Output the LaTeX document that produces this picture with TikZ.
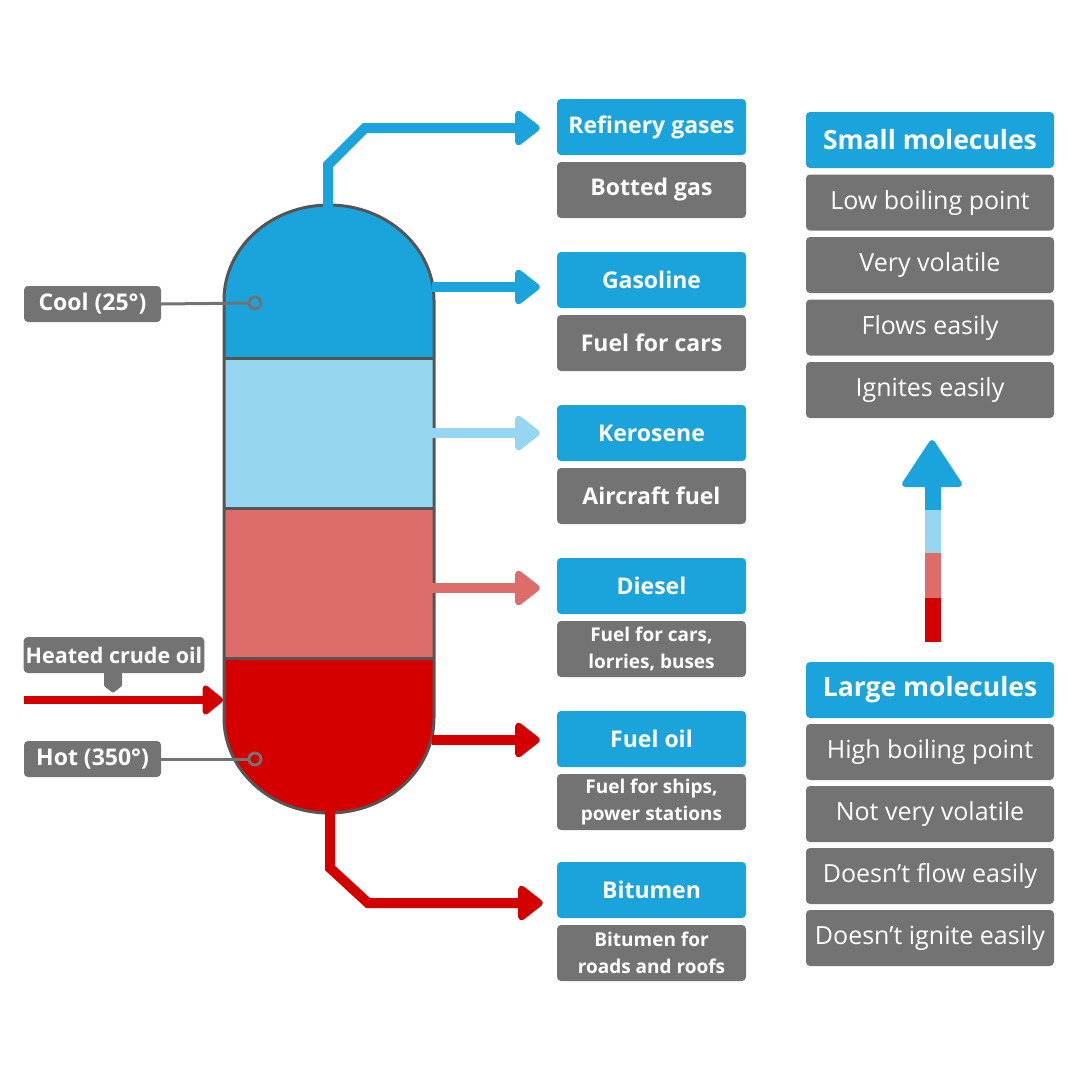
\documentclass[tikz,border=0pt]{standalone}
\usepackage{fontspec}
\setmainfont{Open Sans}
\usetikzlibrary{arrows.meta}
\definecolor{cblue}{HTML}{1BA3DB}
\definecolor{clight}{HTML}{97D6F0}
\definecolor{cpink}{HTML}{DD6C6A}
\definecolor{cred}{HTML}{D40000}
\definecolor{cgray}{HTML}{737373}
\definecolor{cedge}{HTML}{555555}
\tikzset{
  bluebox/.style={fill=cblue,rounded corners=4pt,minimum width=189pt,minimum height=56pt,text=white,font=\bfseries\fontsize{23}{25}\selectfont,inner sep=0pt},
  graybox/.style={fill=cgray,rounded corners=4pt,minimum width=189pt,minimum height=56pt,text=white,font=\bfseries\fontsize{23}{25}\selectfont,inner sep=0pt,align=center},
  graysmall/.style={graybox,font=\bfseries\fontsize{19}{27}\selectfont},
  headbox/.style={fill=cblue,rounded corners=4pt,minimum width=248pt,minimum height=56pt,text=white,font=\bfseries\fontsize{26.5}{28}\selectfont,inner sep=0pt},
  propbox/.style={fill=cgray,rounded corners=4pt,minimum width=248pt,minimum height=56pt,text=white,font=\fontsize{25}{27}\selectfont,inner sep=0pt},
  tagbox/.style={fill=cgray,rounded corners=4pt,minimum height=36pt,text=white,font=\bfseries\fontsize{21.5}{23}\selectfont,inner sep=2pt},
  flow/.style={line width=10pt,-{Triangle[length=27pt,width=40pt,round]}},
  pointer/.style={cgray,line width=3pt},
}
\begin{document}
\begin{tikzpicture}[x=1pt,y=-1pt]
\useasboundingbox (0,0) rectangle (1080,1080);
% column bands
\begin{scope}
  \clip (224,300) arc[start angle=180,end angle=360,x radius=105,y radius=95] -- (434,718) arc[start angle=0,end angle=180,x radius=105,y radius=95] -- cycle;
  \fill[cblue] (200,190) rectangle (460,358);
  \fill[clight] (200,358) rectangle (460,508);
  \fill[cpink] (200,508) rectangle (460,658);
  \fill[cred] (200,658) rectangle (460,830);
\end{scope}
\draw[cedge,line width=3pt] (224,358) -- (434,358) (224,508) -- (434,508) (224,658) -- (434,658);
\draw[cedge,line width=3pt] (224,300) arc[start angle=180,end angle=360,x radius=105,y radius=95] -- (434,718) arc[start angle=0,end angle=180,x radius=105,y radius=95] -- cycle;
\coordinate (top) at (328,207);
\coordinate (bot) at (330,811);
% product boxes
\node[bluebox] (rg) at (651.5,127) {Refinery gases};
\node[graybox] (rgu) at (651.5,190) {Botted gas};
\node[bluebox] (ga) at (651.5,280) {Gasoline};
\node[graybox] (gau) at (651.5,343) {Fuel for cars};
\node[bluebox] (ke) at (651.5,433) {Kerosene};
\node[graybox] (keu) at (651.5,496) {Aircraft fuel};
\node[bluebox] (di) at (651.5,586) {Diesel};
\node[graysmall] (diu) at (651.5,649) {Fuel for cars,\\lorries, buses};
\node[bluebox] (fo) at (651.5,739) {Fuel oil};
\node[graysmall] (fou) at (651.5,802) {Fuel for ships,\\power stations};
\node[bluebox] (bi) at (651.5,890) {Bitumen};
\node[graysmall] (biu) at (651.5,953) {Bitumen for\\roads and roofs};
% flows
\draw[flow,cblue,line join=miter] (top) -- (328,165) -- (365,128) -- ([xshift=-17pt]rg.west |- 0,128);
\coordinate (gs) at (432,287);
\draw[flow,cblue] (gs) -- ([xshift=-17pt]ga.west |- gs);
\coordinate (ks) at (432,433);
\draw[flow,clight] (ks) -- ([xshift=-17pt]ke.west |- ks);
\coordinate (ds) at (432,588);
\draw[flow,cpink] (ds) -- ([xshift=-17pt]di.west |- ds);
\coordinate (fs) at (432,740);
\draw[flow,cred] (fs) -- ([xshift=-17pt]fo.west |- fs);
\draw[flow,cred,line join=miter] (bot) -- (330,868) -- (368,903) -- ([xshift=-14pt]bi.west |- 0,903);
% left tags
\node[tagbox,minimum width=137pt,font=\bfseries\fontsize{23}{25}\selectfont] (cool) at (92.5,304) {Cool (25°)};
\coordinate (coolpt) at (255,303);
\draw[pointer] (cool.east) -- (coolpt);
\draw[pointer,fill=cblue] (coolpt) circle (6pt);
\node[tagbox,minimum width=137pt,font=\bfseries\fontsize{23}{25}\selectfont] (hot) at (92.5,759) {Hot (350°)};
\coordinate (hotpt) at (255,759);
\draw[pointer] (hot.east) -- (hotpt);
\draw[pointer,fill=cred] (hotpt) circle (6pt);
\node[tagbox,minimum width=180pt] (crude) at (114,655) {Heated crude oil};
\fill[cgray,rounded corners=1pt] (104,670) -- (104,686) -- (113,693) -- (122,686) -- (122,670) -- cycle;
\coordinate (cstart) at (24,700);
\coordinate (cend) at (223,700);
\draw[cred,line width=8pt,-{Triangle[length=22pt,width=34pt,round]}] (cstart) -- (cend);
% right column
\node[headbox] (small) at (930,140) {Small molecules};
\node[propbox] (s1) at (930,202.5) {Low boiling point};
\node[propbox] (s2) at (930,265) {Very volatile};
\node[propbox] (s3) at (930,327.5) {Flows easily};
\node[propbox] (s4) at (930,390) {Ignites easily};
\node[headbox] (large) at (930,690) {Large molecules};
\node[propbox] (l1) at (930,752) {High boiling point};
\node[propbox] (l2) at (930,814) {Not very volatile};
\node[propbox] (l3) at (930,876) {Doesn’t flow easily};
\node[propbox] (l4) at (930,938) {Doesn’t ignite easily};
% gradient arrow
\fill[cred] (925,598) rectangle (941,642);
\fill[cpink] (925,553) rectangle (941,598);
\fill[clight] (925,510) rectangle (941,553);
\fill[cblue] (925,480) rectangle (941,510);
\fill[cblue,draw=cblue,line width=6pt,line join=round] (905,484) -- (932,443) -- (959,484) -- cycle;
\end{tikzpicture}
\end{document}
